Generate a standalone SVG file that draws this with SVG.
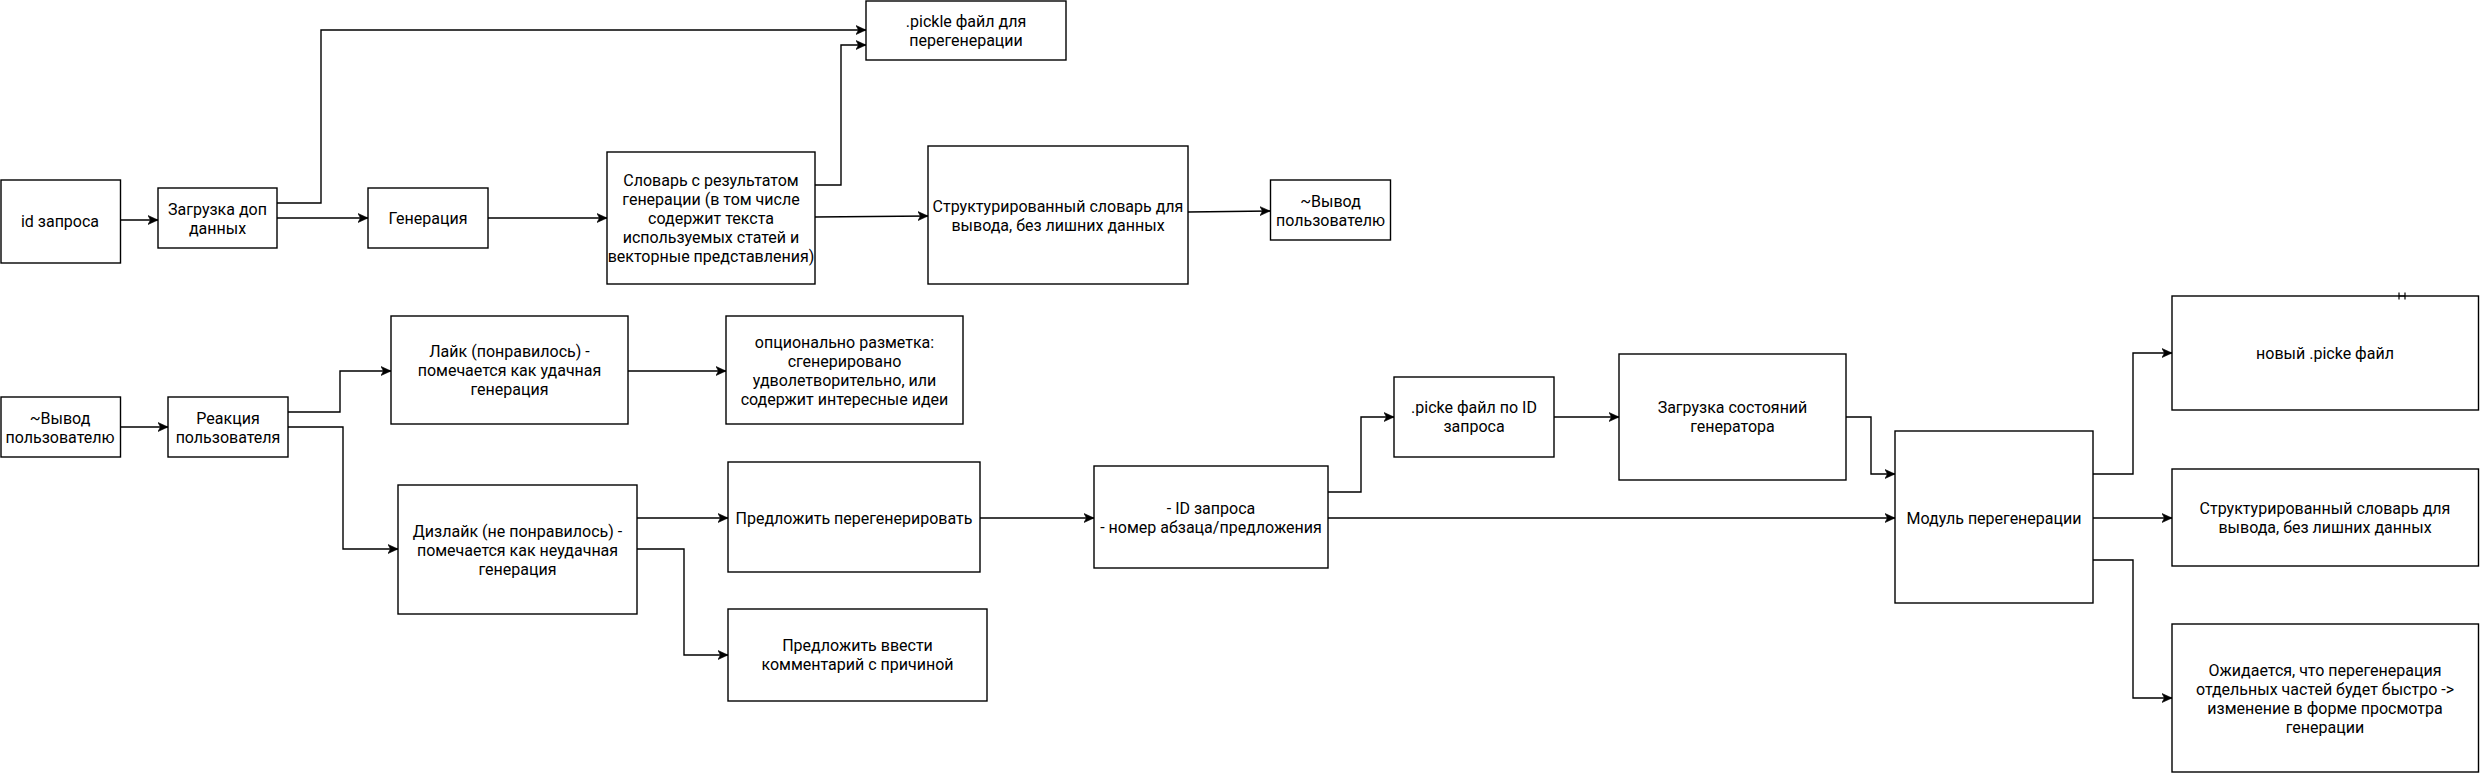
<svg xmlns="http://www.w3.org/2000/svg" width="2480" height="773" viewBox="0 0 2480 773">
<style>
.n rect{fill:#fff;stroke:#000;stroke-width:1.4}
.n text{font-family:Roboto,"Noto Sans",sans-serif;font-size:16px;fill:#000;text-anchor:middle}
.c path{fill:none;stroke:#000;stroke-width:1.4;marker-end:url(#ah)}
</style>
<defs>
<marker id="ah" markerUnits="userSpaceOnUse" markerWidth="12" markerHeight="12" refX="10" refY="5" orient="auto" viewBox="0 0 12 10">
<path d="M0,0.5 L10,5 L0,9.5 L2.5,5 Z" fill="#000" stroke="#000" stroke-width="0.6"/>
</marker>
</defs>
<rect width="2480" height="773" fill="#fff"/>
<g class="c" id="connectors">
<path d="M120,220 L158,220"/>
<path d="M277,218 L368,218"/>
<path d="M277,203 L321,203 L321,30 L866,30"/>
<path d="M488,218 L607,218"/>
<path d="M815,185 L841,185 L841,45 L866,45"/>
<path d="M815,217 L928,216"/>
<path d="M1188,212 L1270,211"/>
<path d="M120,427 L168,427"/>
<path d="M288,412 L340,412 L340,371 L391,371"/>
<path d="M288,427 L343,427 L343,549 L398,549"/>
<path d="M628,371 L726,371"/>
<path d="M637,518 L728,518"/>
<path d="M637,549 L684,549 L684,655 L728,655"/>
<path d="M980,518 L1094,518"/>
<path d="M1328,492 L1361,492 L1361,417 L1394,417"/>
<path d="M1554,417 L1619,417"/>
<path d="M1846,417 L1871,417 L1871,474 L1895,474"/>
<path d="M1328,518 L1895,518"/>
<path d="M2093,474 L2133,474 L2133,353 L2172,353"/>
<path d="M2093,518 L2172,518"/>
<path d="M2093,560 L2133,560 L2133,698 L2172,698"/>
</g>
<g class="n" id="n-id"><rect x="1" y="180" width="119.5" height="83"/><text x="60" y="227">id запроса</text></g>
<g class="n" id="n-load"><rect x="158" y="188" width="119" height="60"/><text x="217.5" y="214.5">Загрузка доп</text><text x="217.5" y="233.5">данных</text></g>
<g class="n" id="n-gen"><rect x="368" y="188" width="120" height="60"/><text x="428" y="223.5">Генерация</text></g>
<g class="n" id="n-dict"><rect x="607" y="152" width="208" height="132"/><text x="711" y="185.5">Словарь с результатом</text><text x="711" y="204.5">генерации (в том числе</text><text x="711" y="223.5">содержит текста</text><text x="711" y="242.5">используемых статей и</text><text x="711" y="261.5">векторные представления)</text></g>
<g class="n" id="n-pickle"><rect x="866" y="1" width="200" height="59"/><text x="966" y="26.5">.pickle файл для</text><text x="966" y="45.5">перегенерации</text></g>
<g class="n" id="n-struct"><rect x="928" y="146" width="260" height="138"/><text x="1058" y="212">Структурированный словарь для</text><text x="1058" y="231">вывода, без лишних данных</text></g>
<g class="n" id="n-out1"><rect x="1270.5" y="180" width="120" height="60"/><text x="1330.5" y="206.5">~Вывод</text><text x="1330.5" y="225.5">пользователю</text></g>
<g class="n" id="n-out2"><rect x="1" y="397" width="119.5" height="60"/><text x="60" y="423.5">~Вывод</text><text x="60" y="442.5">пользователю</text></g>
<g class="n" id="n-react"><rect x="168" y="397" width="120" height="60"/><text x="228" y="423.5">Реакция</text><text x="228" y="442.5">пользователя</text></g>
<g class="n" id="n-like"><rect x="391" y="316" width="237" height="108"/><text x="509.5" y="356.5">Лайк (понравилось) -</text><text x="509.5" y="375.5">помечается как удачная</text><text x="509.5" y="394.5">генерация</text></g>
<g class="n" id="n-opt"><rect x="726" y="316" width="237" height="108"/><text x="844.5" y="348">опционально разметка:</text><text x="844.5" y="367">сгенерировано</text><text x="844.5" y="386">удволетворительно, или</text><text x="844.5" y="405">содержит интересные идеи</text></g>
<g class="n" id="n-dislike"><rect x="398" y="485" width="239" height="129"/><text x="517.5" y="537">Дизлайк (не понравилось) -</text><text x="517.5" y="556">помечается как неудачная</text><text x="517.5" y="575">генерация</text></g>
<g class="n" id="n-regen"><rect x="728" y="462" width="252" height="110"/><text x="854" y="523.5">Предложить перегенерировать</text></g>
<g class="n" id="n-comment"><rect x="728" y="609" width="259" height="92"/><text x="857.5" y="651">Предложить ввести</text><text x="857.5" y="670">комментарий с причиной</text></g>
<g class="n" id="n-idreq"><rect x="1094" y="466" width="234" height="102"/><text x="1211" y="513.5">- ID запроса</text><text x="1211" y="532.5">- номер абзаца/предложения</text></g>
<g class="n" id="n-picke"><rect x="1394" y="377" width="160" height="80"/><text x="1474" y="413">.picke файл по ID</text><text x="1474" y="432">запроса</text></g>
<g class="n" id="n-state"><rect x="1619" y="354" width="227" height="126"/><text x="1732.5" y="413">Загрузка состояний</text><text x="1732.5" y="432">генератора</text></g>
<g class="n" id="n-module"><rect x="1895" y="431" width="198" height="172"/><text x="1994" y="523.5">Модуль перегенерации</text></g>
<g class="n" id="n-newpicke"><rect x="2172" y="296" width="306.5" height="114"/><text x="2325" y="358.5">новый .picke файл</text><path d="M2399,292.5 L2399,299.5 M2405,292.5 L2405,299.5 M2399,296 L2405,296" stroke="#000" stroke-width="1.2" fill="none"/></g>
<g class="n" id="n-struct2"><rect x="2172" y="469" width="306.5" height="97"/><text x="2325" y="513.5">Структурированный словарь для</text><text x="2325" y="532.5">вывода, без лишних данных</text></g>
<g class="n" id="n-expect"><rect x="2172" y="624" width="306.5" height="148"/><text x="2325" y="675.5">Ожидается, что перегенерация</text><text x="2325" y="694.5">отдельных частей будет быстро -&gt;</text><text x="2325" y="713.5">изменение в форме просмотра</text><text x="2325" y="732.5">генерации</text></g>
</svg>
